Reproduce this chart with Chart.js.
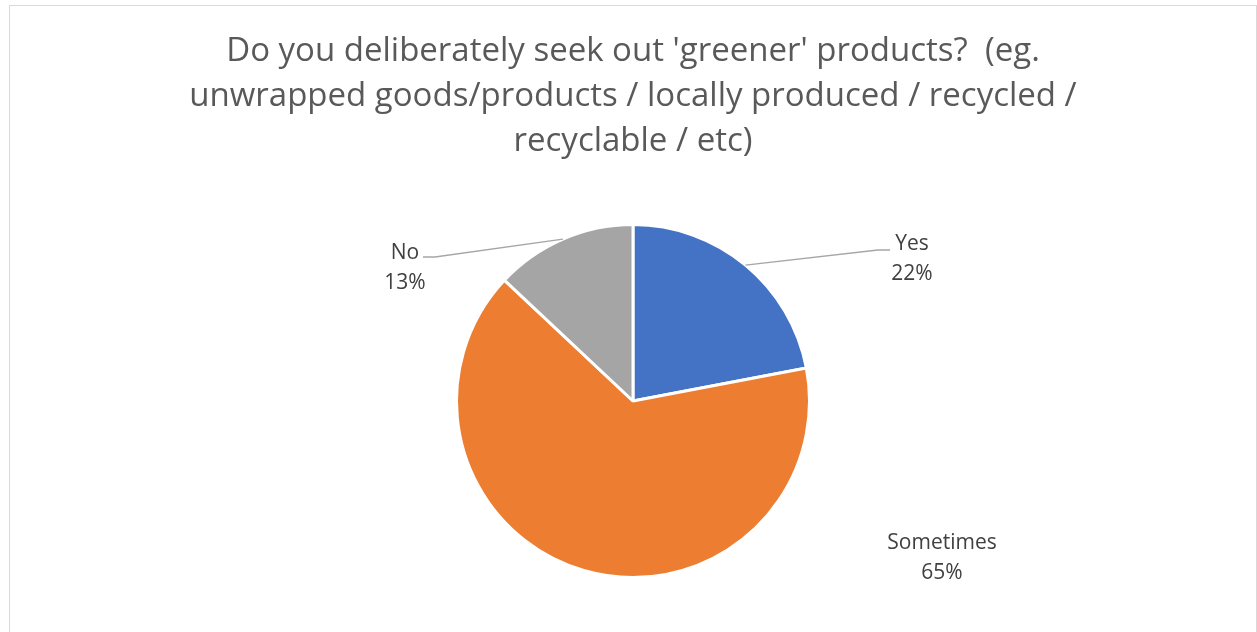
<!DOCTYPE html>
<html lang="en">
<head>
  <meta charset="UTF-8" />
  <title>Greener products survey</title>
  <script src="https://cdn.jsdelivr.net/npm/chart.js"></script>
  <style>
    html, body { margin: 0; padding: 0; background: #fff; overflow: hidden; }
    .chart-box { position: relative; width: 1257px; height: 632px; }
    .frame { position: absolute; left: 9px; top: 5px; width: 1246px; height: 700px; border: 1px solid #d9d9d9; }
    canvas { position: absolute; left: 0; top: 0; }
  </style>
</head>
<body>
<div class="chart-box">
  <div class="frame"></div>
  <canvas id="greenChart" width="1257" height="632"></canvas>
</div>

<script>
// Survey answers
const answers = ['Yes', 'Sometimes', 'No'];
const shares = [22, 65, 13];
const sliceColors = ['#4472c4', '#ed7d31', '#a5a5a5'];
const titleLines = [
  "Do you deliberately seek out 'greener' products?  (eg.",
  'unwrapped goods/products / locally produced / recycled /',
  'recyclable / etc)'
];

// Label placement, offsets from the pie centre (px)
const labelSpots = [
  { x: 279, y: -142, elbow: { x: 245, y: -151 }, end: { x: 257, y: -151 } },
  { x: 309, y: 157 },
  { x: -228, y: -133, elbow: { x: -198, y: -144 }, end: { x: -210, y: -144 } }
];

const outsideLabels = {
  id: 'outsideLabels',
  afterDatasetsDraw(chart) {
    const ctx = chart.ctx;
    const meta = chart.getDatasetMeta(0);
    const total = shares.reduce((a, b) => a + b, 0);
    meta.data.forEach((arc, i) => {
      const cx = arc.x, cy = arc.y;
      const spot = labelSpots[i];
      if (spot.elbow) {
        const mid = (arc.startAngle + arc.endAngle) / 2;
        const r = arc.outerRadius;
        ctx.save();
        ctx.strokeStyle = '#a6a6a6';
        ctx.lineWidth = 1.3;
        ctx.beginPath();
        ctx.moveTo(cx + Math.cos(mid) * r, cy + Math.sin(mid) * r);
        ctx.lineTo(cx + spot.elbow.x, cy + spot.elbow.y);
        ctx.lineTo(cx + spot.end.x, cy + spot.end.y);
        ctx.stroke();
        ctx.restore();
      }
      ctx.save();
      ctx.fillStyle = '#404040';
      ctx.font = '21px "Open Sans", sans-serif';
      ctx.textAlign = 'center';
      ctx.textBaseline = 'middle';
      const pct = Math.round(shares[i] / total * 100) + '%';
      ctx.fillText(answers[i], cx + spot.x, cy + spot.y - 15);
      ctx.fillText(pct, cx + spot.x, cy + spot.y + 15);
      ctx.restore();
    });
  }
};

new Chart(document.getElementById('greenChart').getContext('2d'), {
  type: 'pie',
  data: {
    labels: answers,
    datasets: [{
      data: shares,
      backgroundColor: sliceColors,
      borderColor: '#ffffff',
      borderWidth: 3
    }]
  },
  options: {
    responsive: false,
    animation: false,
    layout: { padding: { top: 0, bottom: 53, left: 9, right: 0 } },
    plugins: {
      legend: { display: false },
      tooltip: { enabled: false },
      title: {
        display: true,
        text: titleLines,
        color: '#595959',
        font: { family: '"Open Sans", sans-serif', size: 33, weight: 'normal', lineHeight: 1.364 },
        padding: { top: 29, bottom: 59 }
      }
    }
  },
  plugins: [outsideLabels]
});
</script>
</body>
</html>
